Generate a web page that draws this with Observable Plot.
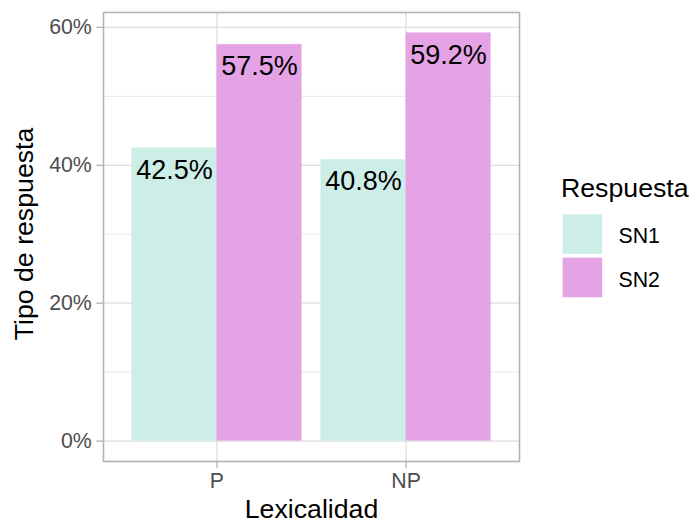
<!DOCTYPE html>
<html><head><meta charset="utf-8">
<script src="https://cdn.jsdelivr.net/npm/d3@7"></script>
<script src="https://cdn.jsdelivr.net/npm/@observablehq/plot@0.6"></script>
<style>
html,body{margin:0;padding:0;background:#fff;}
#wrap{position:relative;width:693px;height:523px;font-family:"Liberation Sans",Arial,sans-serif;}
#legend{position:absolute;left:540px;top:160px;}
</style></head><body><div id="wrap"></div>
<script>
// Data
const lexicalidad = ["P", "NP"];
const respuestas = ["SN1", "SN2"];
const valoresSN1 = [0.425, 0.408];
const valoresSN2 = [0.575, 0.592];
const yTicks = [0, 0.2, 0.4, 0.6];
const yMinor = [0.1, 0.3, 0.5];
const colores = ["#CCEEE6", "#E5A3E6"];

// dodge (like position_dodge, total width 0.9)
const dodgeWidth = 0.9;
const series = [valoresSN1, valoresSN2];
const data = [];
lexicalidad.forEach((g, i) => {
  respuestas.forEach((r, j) => {
    const w = dodgeWidth / respuestas.length;
    const x1 = (i + 1) - dodgeWidth / 2 + j * w;
    data.push({grupo: g, resp: r, value: series[j][i], x1, x2: x1 + w});
  });
});

const ymax = d3.max(data, d => d.value);
const pad = ymax * 0.05;
const font = "Liberation Sans, Arial, sans-serif";

const plot = Plot.plot({
  width: 693,
  height: 523,
  marginLeft: 103,
  marginRight: 174,
  marginTop: 12,
  marginBottom: 62,
  style: {fontFamily: font, background: "white", overflow: "visible"},
  x: {type: "linear", domain: [0.4, lexicalidad.length + 0.6]},
  y: {domain: [-pad, ymax + pad]},
  color: {domain: respuestas, range: colores},
  marks: [
    Plot.gridY(yMinor, {stroke: "#dedede", strokeOpacity: 1, strokeWidth: 0.7}),
    Plot.gridY(yTicks, {stroke: "#dedede", strokeOpacity: 1, strokeWidth: 1.3}),
    Plot.gridX(d3.range(1, lexicalidad.length + 1), {stroke: "#dedede", strokeOpacity: 1, strokeWidth: 1.3}),
    Plot.rectY(data, {x1: "x1", x2: "x2", y: "value", fill: "resp"}),
    Plot.frame({stroke: "#b3b3b3", strokeWidth: 1.6}),
    Plot.axisY(yTicks, {
      tickFormat: d3.format(".0%"), label: null, tickSize: 6.7, tickPadding: 5,
      fontSize: 21.3, fill: "#4d4d4d", stroke: "#b3b3b3", strokeWidth: 1.3, strokeOpacity: 1
    }),
    Plot.axisX(d3.range(1, lexicalidad.length + 1), {
      tickFormat: d => lexicalidad[d - 1], label: null, tickSize: 6.7, tickPadding: 5,
      fontSize: 21.3, fill: "#4d4d4d", stroke: "#b3b3b3", strokeWidth: 1.3, strokeOpacity: 1
    }),
    Plot.text(data, {
      x: d => (d.x1 + d.x2) / 2, y: "value",
      text: d => (d.value * 100).toFixed(1) + "%",
      lineAnchor: "top", dy: 11.5, fontSize: 27, fill: "black"
    }),
    Plot.text(["Lexicalidad"], {frameAnchor: "bottom", lineAnchor: "bottom", dy: 56, fontSize: 26.7, fill: "black"}),
    Plot.text(["Tipo de respuesta"], {frameAnchor: "left", textAnchor: "middle", lineAnchor: "bottom", rotate: -90, dx: -71, dy: -3, fontSize: 26.7, fill: "black"})
  ]
});

const wrap = document.getElementById("wrap");
wrap.appendChild(plot);

// Legend
const color = plot.scale("color");
const lg = d3.select(wrap).append("svg").attr("id", "legend")
  .attr("width", 153).attr("height", 150)
  .style("font-family", font);
lg.append("text").attr("x", 21).attr("y", 36.7).attr("font-size", 26.7).attr("fill", "black").text("Respuesta");
respuestas.forEach((r, i) => {
  const y0 = 54.3 + i * 43.4;
  lg.append("rect").attr("x", 22.6).attr("y", y0).attr("width", 39.6).attr("height", 39.6)
    .attr("fill", color.apply(r));
  lg.append("text").attr("x", 78.5).attr("y", y0 + 29).attr("font-size", 21.3).attr("fill", "black").text(r);
});
</script>
</body></html>
